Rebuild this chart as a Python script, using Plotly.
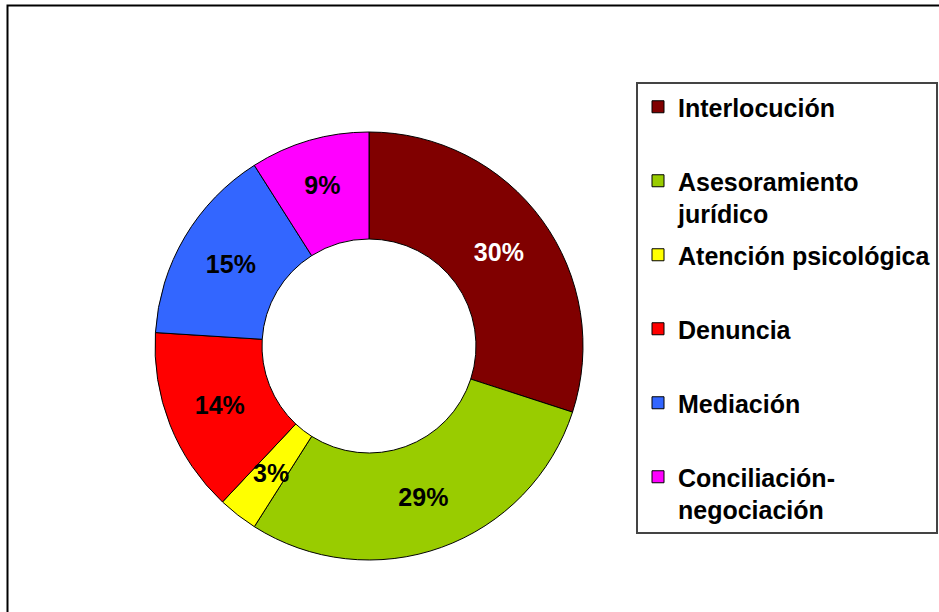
import math
import plotly.graph_objects as go

# categories and shares (percent)
categories = [
    "Interlocución",
    "Asesoramiento<br>jurídico",
    "Atención psicológica",
    "Denuncia",
    "Mediación",
    "Conciliación-<br>negociación",
]
shares = [30, 29, 3, 14, 15, 9]
colors = ["#800000", "#99CC00", "#FFFF00", "#FF0000", "#3366FF", "#FF00FF"]
label_colors = ["white", "black", "black", "black", "black", "black"]

W, H = 939, 612
FONT = "Liberation Sans, Arial"

# pie geometry in pixels
cx, cy, r_out, hole = 369, 346, 214, 0.5

# tiny slices: plotly pushes their label to the rim, so put it at mid-ring instead
small = [s < 5 for s in shares]
texts = ["" if sm else f"{s}%" for s, sm in zip(shares, small)]

fig = go.Figure()
fig.add_trace(
    go.Pie(
        labels=[c.replace("<br>", " ") for c in categories],
        values=shares,
        sort=False,
        direction="clockwise",
        hole=hole,
        marker=dict(colors=colors, line=dict(color="black", width=1)),
        text=texts,
        textinfo="text",
        textposition="inside",
        insidetextorientation="horizontal",
        textfont=dict(family=FONT, size=25, weight="bold", color=label_colors),
        hoverinfo="label+percent",
        showlegend=False,
        domain=dict(x=[(cx - r_out) / W, (cx + r_out) / W], y=[(H - cy - r_out) / H, (H - cy + r_out) / H]),
    )
)

total = sum(shares)
cum = 0
for s, sm, lc in zip(shares, small, label_colors):
    mid = (cum + s / 2) / total * 2 * math.pi
    cum += s
    if not sm:
        continue
    r_mid = r_out * (1 + hole) / 2
    fig.add_annotation(
        x=(cx + r_mid * math.sin(mid)) / W,
        y=(H - cy + r_mid * math.cos(mid)) / H,
        xref="paper",
        yref="paper",
        xanchor="center",
        yanchor="middle",
        text=f"{s}%",
        showarrow=False,
        font=dict(family=FONT, size=25, weight="bold", color=lc),
    )

# legend entries, each in its own group so the gap between them can be set;
# single line names get a blank second line so all entries are equally tall
for name, col in zip(categories, colors):
    fig.add_trace(
        go.Scatter(
            x=[None],
            y=[None],
            mode="markers",
            name=name if "<br>" in name else name + "<br> ",
            legendgroup=name,
            marker=dict(symbol="square", size=12, color=col, line=dict(color="black", width=1)),
        )
    )

fig.update_layout(
    width=W,
    height=H,
    margin=dict(l=0, r=0, t=0, b=0, autoexpand=False),
    paper_bgcolor="white",
    plot_bgcolor="white",
    xaxis=dict(visible=False),
    yaxis=dict(visible=False),
    uniformtext=dict(minsize=25, mode="show"),
    legend=dict(
        x=636 / W,
        y=1 - 82 / H,
        xanchor="left",
        yanchor="top",
        valign="top",
        tracegroupgap=6,
        bgcolor="white",
        bordercolor="#444444",
        borderwidth=2,
        font=dict(family=FONT, size=25, weight="bold", color="black"),
    ),
    shapes=[
        dict(
            type="rect",
            xref="paper",
            yref="paper",
            x0=7.5 / W,
            x1=1.05,
            y0=-0.05,
            y1=1 - 5.5 / H,
            line=dict(color="black", width=2),
        )
    ],
)

fig.write_html(
    "out.html",
    config={"displayModeBar": False},
    post_script="document.body.style.margin = '0';",
)
